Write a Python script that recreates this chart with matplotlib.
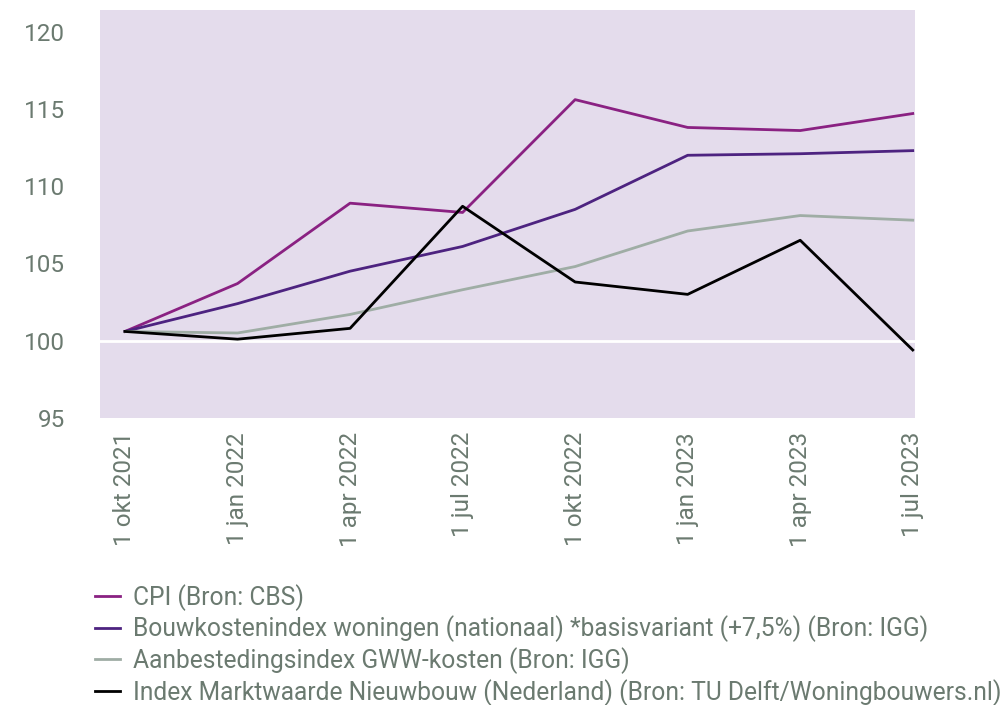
import matplotlib
matplotlib.use("Agg")
import matplotlib.pyplot as plt

plt.rcParams['font.family'] = ['Roboto', 'DejaVu Sans']

dates = ["1 okt 2021", "1 jan 2022", "1 apr 2022", "1 jul 2022",
         "1 okt 2022", "1 jan 2023", "1 apr 2023", "1 jul 2023"]
cpi = [100.6, 103.7, 108.9, 108.3, 115.6, 113.8, 113.6, 114.7]
bouwkosten = [100.6, 102.4, 104.5, 106.1, 108.5, 112.0, 112.1, 112.3]
gww = [100.6, 100.5, 101.7, 103.3, 104.8, 107.1, 108.1, 107.8]
marktwaarde = [100.6, 100.1, 100.8, 108.7, 103.8, 103.0, 106.5, 99.4]

labels = ["CPI (Bron: CBS)",
          "Bouwkostenindex woningen (nationaal) *basisvariant (+7,5%) (Bron: IGG)",
          "Aanbestedingsindex GWW-kosten (Bron: IGG)",
          "Index Marktwaarde Nieuwbouw (Nederland) (Bron: TU Delft/Woningbouwers.nl)"]
colors = ["#8a2182", "#4d2380", "#9fada5", "#000000"]
series = [cpi, bouwkosten, gww, marktwaarde]
yticks = [95, 100, 105, 110, 115, 120]

text_color = "#6b7a70"
fs = 17.5

fig = plt.figure(figsize=(10.01, 7.05), dpi=100)
ax = fig.add_axes([100/1001, 1-418/705, 815/1001, 408/705])
ax.set_facecolor("#e4dcec")
for s in ax.spines.values():
    s.set_visible(False)

x = list(range(len(dates)))
ax.axhline(100, color="white", lw=2, zorder=1)
handles = []
for ys, c, lab in zip(series, colors, labels):
    h, = ax.plot(x, ys, color=c, lw=2, label=lab, zorder=2)
    handles.append(h)

ax.set_xlim(-0.222, 7.02)
ax.set_ylim(95, 121.4)
ax.set_yticks(yticks)
ax.set_yticklabels([str(v) for v in yticks])
ax.set_xticks(x)
ax.set_xticklabels(dates, rotation=90)
ax.tick_params(axis='both', length=0, labelsize=fs, labelcolor=text_color)
ax.tick_params(axis='y', pad=25)
ax.tick_params(axis='x', pad=10)

fig.legend(handles, labels, loc="upper left", bbox_to_anchor=(0.085, 0.186),
           frameon=False, fontsize=17.7, labelcolor=text_color,
           handlelength=1.03, handletextpad=0.53, labelspacing=0.2,
           borderaxespad=0)

fig.savefig("out.png", dpi=100)
